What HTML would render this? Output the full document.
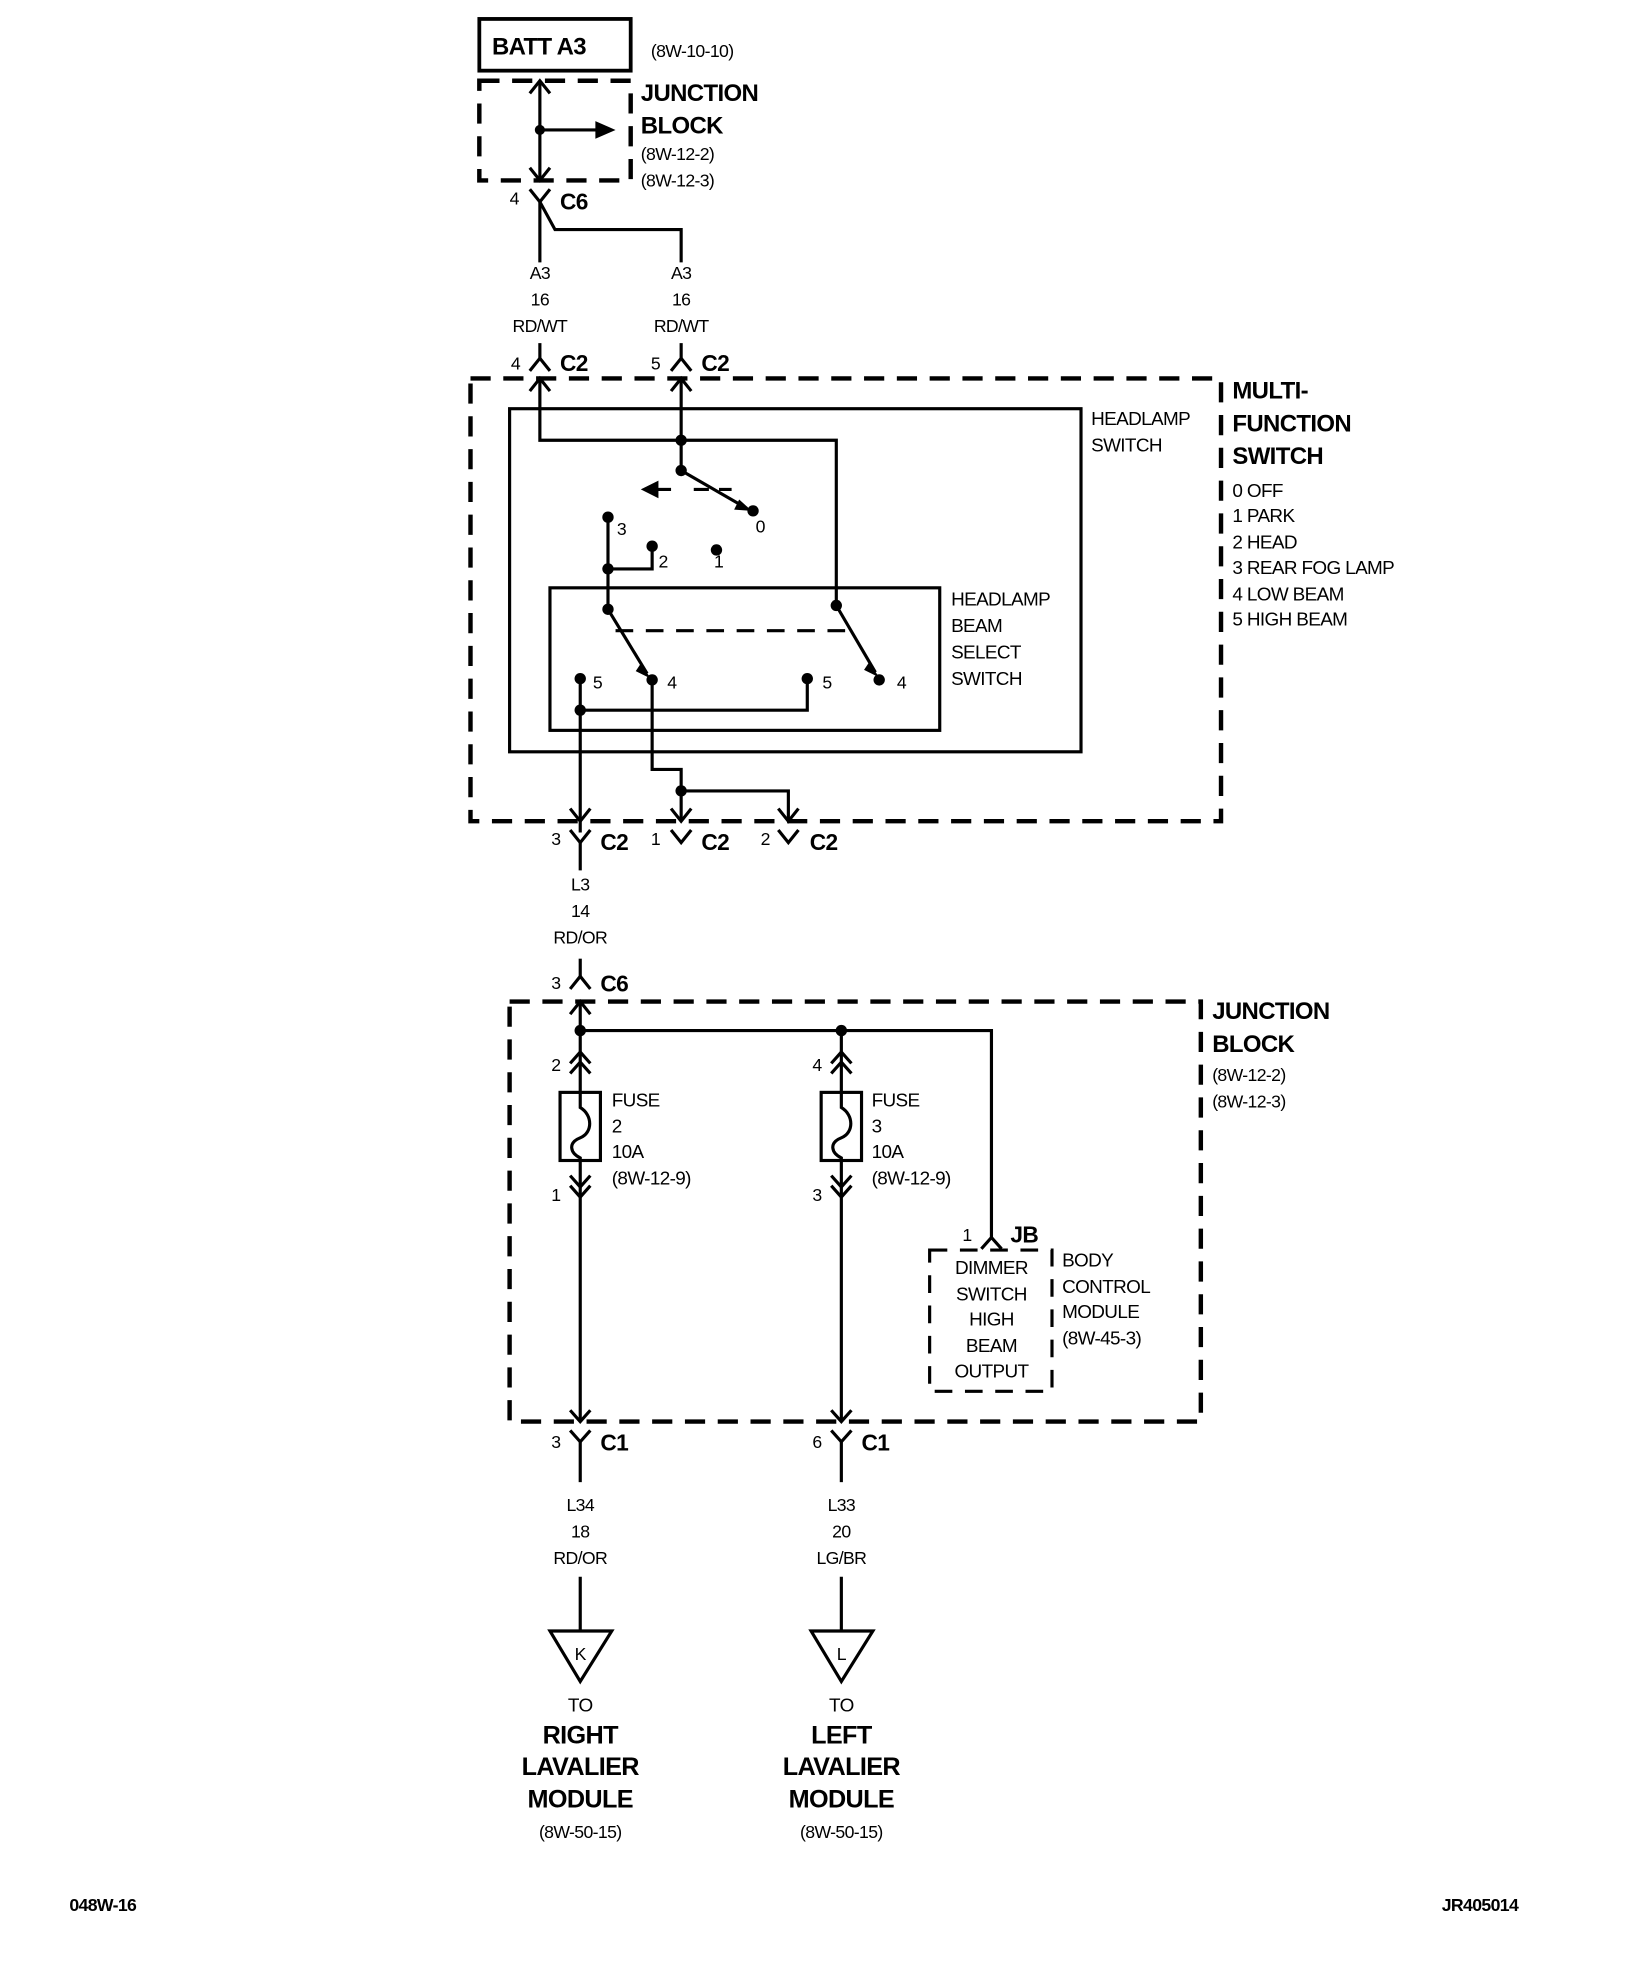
<!DOCTYPE html>
<html><head><meta charset="utf-8"><style>
html,body{margin:0;padding:0;background:#fff;}
svg{display:block;}
text{font-family:"Liberation Sans Narrow","Liberation Sans",sans-serif;fill:#000;letter-spacing:-0.5px;}
.b{font-weight:bold;}
</style></head><body>
<svg width="1648" height="1976" viewBox="0 0 1306.5 1566.5" xmlns="http://www.w3.org/2000/svg">
<g fill="none" stroke="#000" stroke-width="2.5">
<rect x="380" y="15" width="120" height="41" stroke-width="3"/>
<rect x="380" y="64" width="120" height="79" stroke-width="3.5" stroke-dasharray="16 10"/>
<line x1="428" y1="64" x2="428" y2="143"/>
<polyline points="420,74 428,64 436,74"/>
<polyline points="420,133 428,143 436,133"/>
<line x1="428" y1="103" x2="475" y2="103"/>
<polyline points="420,150 428,160 436,150"/>
<line x1="428" y1="160" x2="428" y2="208"/>
<polyline points="428,160 440,182 540,182 540,208"/>
<line x1="428" y1="272" x2="428" y2="284"/><polyline points="420,294 428,284 436,294"/>
<line x1="540" y1="272" x2="540" y2="284"/><polyline points="532,294 540,284 548,294"/>
<rect x="373" y="300" width="595" height="351" stroke-width="3.5" stroke-dasharray="16 10"/>
<rect x="404" y="324" width="453" height="272"/>
<rect x="436" y="466" width="309" height="113"/>
<polyline points="420,310 428,300 436,310"/>
<polyline points="532,310 540,300 548,310"/>
<polyline points="428,300 428,349 663,349 663,480"/>
<line x1="540" y1="300" x2="540" y2="373"/>
<line x1="540" y1="373" x2="592" y2="403"/>
<line x1="550" y1="388" x2="580" y2="388" stroke-dasharray="12 8"/>
<line x1="520" y1="388" x2="532" y2="388"/>
<line x1="482" y1="410" x2="482" y2="483"/>
<polyline points="482,451 517,451 517,433"/>
<line x1="482" y1="483" x2="513" y2="534"/>
<line x1="663" y1="480" x2="694" y2="533"/>
<line x1="488" y1="500" x2="680" y2="500" stroke-dasharray="14 10"/>
<line x1="460" y1="538" x2="460" y2="660"/>
<polyline points="460,563 640,563 640,538"/>
<polyline points="517,539 517,610 540,610 540,650"/>
<polyline points="540,627 625,627 625,650"/>
<polyline points="452,641 460,651 468,641"/>
<polyline points="532,641 540,651 548,641"/>
<polyline points="617,641 625,651 633,641"/>
<polyline points="452,658 460,668 468,658"/><line x1="460" y1="668" x2="460" y2="690"/>
<polyline points="532,658 540,668 548,658"/>
<polyline points="617,658 625,668 633,658"/>
<line x1="460" y1="760" x2="460" y2="774"/><polyline points="452,784 460,774 468,784"/>
<rect x="404" y="794" width="548" height="333" stroke-width="3.5" stroke-dasharray="16 10"/>
<polyline points="452,804 460,794 468,804"/>
<line x1="460" y1="794" x2="460" y2="1127"/>
<polyline points="460,817 786,817 786,982"/>
<line x1="667" y1="817" x2="667" y2="1127"/>
<polyline points="452,843 460,834 468,843"/><polyline points="452,851 460,842 468,851"/>
<polyline points="659,843 667,834 675,843"/><polyline points="659,851 667,842 675,851"/>
<rect x="444" y="866" width="32" height="54" fill="#fff"/>
<rect x="651" y="866" width="32" height="54" fill="#fff"/>
<path d="M460 866 V878 C470 884 470 898 460 902 C450 906 452 914 460 918 V920"/>
<path d="M667 866 V878 C677 884 677 898 667 902 C657 906 659 914 667 918 V920"/>
<polyline points="452,932 460,941 468,932"/><polyline points="452,940 460,949 468,940"/>
<polyline points="659,932 667,941 675,932"/><polyline points="659,940 667,949 675,940"/>
<polyline points="452,1118 460,1127 468,1118"/>
<polyline points="659,1118 667,1127 675,1118"/>
<polyline points="778,990 786,981 794,990"/>
<rect x="737" y="991" width="97" height="112" stroke-dasharray="14 10"/>
<polyline points="452,1134 460,1143 468,1134"/><line x1="460" y1="1143" x2="460" y2="1175"/>
<polyline points="659,1134 667,1143 675,1134"/><line x1="667" y1="1143" x2="667" y2="1175"/>
<line x1="460" y1="1250" x2="460" y2="1293"/>
<line x1="667" y1="1250" x2="667" y2="1293"/>
<polygon points="436,1293 485,1293 460,1333"/>
<polygon points="643,1293 692,1293 667,1333"/>
</g>
<g fill="#000">
<polygon points="472,96 488,103 472,110"/>
<polygon points="508,388 522,381 522,395"/>
<polygon points="586,396 596,405 582,404"/>
<polygon points="508,526 516,538 504,532"/>
<polygon points="689,525 697,537 685,531"/>
<circle cx="428" cy="103" r="4"/>
<circle cx="540" cy="349" r="4.5"/><circle cx="540" cy="373" r="4.5"/>
<circle cx="597" cy="405" r="4.5"/><circle cx="482" cy="410" r="4.5"/>
<circle cx="517" cy="433" r="4.5"/><circle cx="568" cy="436" r="4.5"/>
<circle cx="482" cy="451" r="4.5"/><circle cx="482" cy="483" r="4.5"/>
<circle cx="663" cy="480" r="4.5"/>
<circle cx="460" cy="538" r="4.5"/><circle cx="517" cy="539" r="4.5"/>
<circle cx="640" cy="538" r="4.5"/><circle cx="697" cy="539" r="4.5"/>
<circle cx="460" cy="563" r="4.5"/><circle cx="540" cy="627" r="4.5"/>
<circle cx="460" cy="817" r="4.5"/><circle cx="667" cy="817" r="4.5"/>
</g>
<g font-size="15">
<text x="390" y="43" class="b" font-size="19">BATT A3</text>
<text x="516" y="45" font-size="14">(8W-10-10)</text>
<text x="508" y="80" class="b" font-size="19">JUNCTION</text>
<text x="508" y="106" class="b" font-size="19">BLOCK</text>
<text x="508" y="127" font-size="14">(8W-12-2)</text>
<text x="508" y="148" font-size="14">(8W-12-3)</text>
<text x="404" y="162" font-size="14">4</text><text x="444" y="166" class="b" font-size="18">C6</text>
<g text-anchor="middle" font-size="14">
<text x="428" y="221">A3</text><text x="428" y="242">16</text><text x="428" y="263">RD/WT</text>
<text x="540" y="221">A3</text><text x="540" y="242">16</text><text x="540" y="263">RD/WT</text>
</g>
<text x="405" y="293" font-size="14">4</text><text x="444" y="294" class="b" font-size="18">C2</text>
<text x="516" y="293" font-size="14">5</text><text x="556" y="294" class="b" font-size="18">C2</text>
<text x="977" y="316" class="b" font-size="19">MULTI-</text>
<text x="977" y="342" class="b" font-size="19">FUNCTION</text>
<text x="977" y="368" class="b" font-size="19">SWITCH</text>
<g font-size="15">
<text x="977" y="394">0 OFF</text><text x="977" y="414">1 PARK</text><text x="977" y="435">2 HEAD</text>
<text x="977" y="455">3 REAR FOG LAMP</text><text x="977" y="476">4 LOW BEAM</text><text x="977" y="496">5 HIGH BEAM</text>
<text x="865" y="337">HEADLAMP</text><text x="865" y="358">SWITCH</text>
<text x="754" y="480">HEADLAMP</text><text x="754" y="501">BEAM</text><text x="754" y="522">SELECT</text><text x="754" y="543">SWITCH</text>
</g>
<text x="489" y="424" font-size="14">3</text><text x="522" y="450" font-size="14">2</text>
<text x="566" y="450" font-size="14">1</text><text x="599" y="422" font-size="14">0</text>
<text x="470" y="546" font-size="14">5</text><text x="529" y="546" font-size="14">4</text>
<text x="652" y="546" font-size="14">5</text><text x="711" y="546" font-size="14">4</text>
<text x="437" y="670" font-size="14">3</text><text x="476" y="674" class="b" font-size="18">C2</text>
<text x="516" y="670" font-size="14">1</text><text x="556" y="674" class="b" font-size="18">C2</text>
<text x="603" y="670" font-size="14">2</text><text x="642" y="674" class="b" font-size="18">C2</text>
<g text-anchor="middle" font-size="14">
<text x="460" y="706">L3</text><text x="460" y="727">14</text><text x="460" y="748">RD/OR</text>
</g>
<text x="437" y="784" font-size="14">3</text><text x="476" y="786" class="b" font-size="18">C6</text>
<text x="961" y="808" class="b" font-size="19">JUNCTION</text>
<text x="961" y="834" class="b" font-size="19">BLOCK</text>
<text x="961" y="857" font-size="14">(8W-12-2)</text>
<text x="961" y="878" font-size="14">(8W-12-3)</text>
<text x="437" y="849" font-size="14">2</text><text x="644" y="849" font-size="14">4</text>
<text x="437" y="952" font-size="14">1</text><text x="644" y="952" font-size="14">3</text>
<text x="485" y="877">FUSE</text><text x="485" y="898">2</text><text x="485" y="918">10A</text><text x="485" y="939">(8W-12-9)</text>
<text x="691" y="877">FUSE</text><text x="691" y="898">3</text><text x="691" y="918">10A</text><text x="691" y="939">(8W-12-9)</text>
<text x="763" y="984" font-size="14">1</text><text x="801" y="985" class="b" font-size="18">JB</text>
<g text-anchor="middle">
<text x="786" y="1010">DIMMER</text><text x="786" y="1031">SWITCH</text><text x="786" y="1051">HIGH</text>
<text x="786" y="1072">BEAM</text><text x="786" y="1092">OUTPUT</text>
</g>
<text x="842" y="1004">BODY</text><text x="842" y="1025">CONTROL</text><text x="842" y="1045">MODULE</text><text x="842" y="1066">(8W-45-3)</text>
<text x="437" y="1148" font-size="14">3</text><text x="476" y="1150" class="b" font-size="18">C1</text>
<text x="644" y="1148" font-size="14">6</text><text x="683" y="1150" class="b" font-size="18">C1</text>
<g text-anchor="middle">
<text x="460" y="1198" font-size="14">L34</text><text x="460" y="1219" font-size="14">18</text><text x="460" y="1240" font-size="14">RD/OR</text>
<text x="667" y="1198" font-size="14">L33</text><text x="667" y="1219" font-size="14">20</text><text x="667" y="1240" font-size="14">LG/BR</text>
<text x="460" y="1316" font-size="14">K</text><text x="667" y="1316" font-size="14">L</text>
<text x="460" y="1357">TO</text>
<text x="460" y="1382" class="b" font-size="20">RIGHT</text>
<text x="460" y="1407" class="b" font-size="20">LAVALIER</text>
<text x="460" y="1433" class="b" font-size="20">MODULE</text>
<text x="460" y="1457" font-size="14">(8W-50-15)</text>
<text x="667" y="1357">TO</text>
<text x="667" y="1382" class="b" font-size="20">LEFT</text>
<text x="667" y="1407" class="b" font-size="20">LAVALIER</text>
<text x="667" y="1433" class="b" font-size="20">MODULE</text>
<text x="667" y="1457" font-size="14">(8W-50-15)</text>
</g>
<text x="55" y="1515" class="b" font-size="14">048W-16</text>
<text x="1143" y="1515" class="b" font-size="14">JR405014</text>
</g>
</svg>
</body></html>
